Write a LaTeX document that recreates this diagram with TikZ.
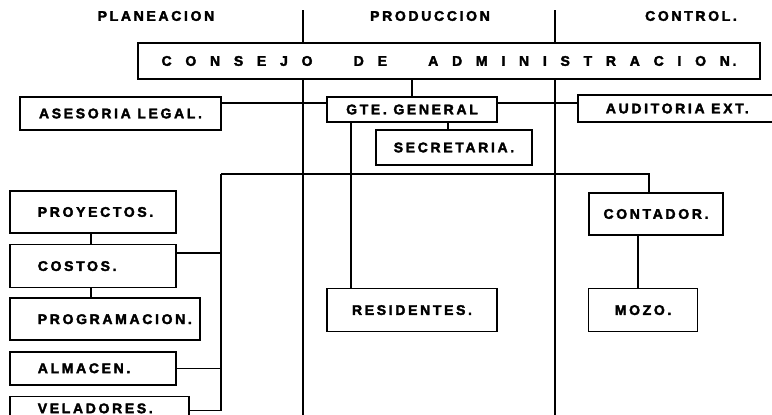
\documentclass[tikz,border=0pt]{standalone}
\usepackage{fontspec}
\setmainfont{Liberation Sans}[LetterSpace=19, BoldFeatures={FakeBold=2.5}]
\newfontfamily\spreadfont{Liberation Sans}[LetterSpace=19, WordSpace=2.1, BoldFeatures={FakeBold=2.5}]
\usepackage{tikz}
\usetikzlibrary{positioning}

\begin{document}
\begin{tikzpicture}[x=1pt, y=-1pt, line width=1.6pt,
    every node/.style={font=\bfseries\fontsize{14}{14}\selectfont},
    box/.style={draw, fill=white, inner sep=0pt},
    leftbox/.style={box, text width=#1, align=left, execute at begin node=\hspace*{28pt}}]
       \useasboundingbox (0,0) rectangle (772,415);
       % columns
       \node (plan) at (156,16) {PLANEACION};
       \node (prod) at (430,16) {PRODUCCION};
       \node (ctrl) at (691,16) {CONTROL.};
       \coordinate (div1) at (303,10);
       \coordinate (div2) at (555,10);
       \draw (div1) -- ++(0,405);
       \draw (div2) -- ++(0,405);

       % boxes
       \node[box, minimum width=622pt, minimum height=36pt] (consejo) at (449,61)
            {\spreadfont C O N S E J O\ \ \ D E\ \ \ A D M I N I S T R A C I O N.};
       \node[box, minimum width=201pt, minimum height=33pt] (asesoria) at (120.5,113.5) {ASESORIA LEGAL.};
       \node[box, minimum width=170pt, minimum height=25pt] (gte) at (412,109.5) {GTE. GENERAL};
       \node[box, minimum width=156pt, minimum height=35pt] (secretaria) at (454,147.5) {SECRETARIA.};
       \node[box, minimum width=199pt, minimum height=27pt, anchor=west] (auditoria) at (577,108.5) {AUDITORIA EXT.};
       \node[box, minimum width=170pt, minimum height=43pt] (residentes) [below=165pt of gte] {RESIDENTES.};
       \node[box, minimum width=109pt, minimum height=43pt] (mozo) [right=90pt of residentes] {MOZO.};
       \node[box, minimum width=134pt, minimum height=42pt] (contador) at (656,214) {CONTADOR.};

       \node[leftbox=166pt, minimum height=42pt, anchor=west] (proyectos) at (9,212) {PROYECTOS.};
       \node[leftbox=166pt, minimum height=43pt] (costos) [below=10pt of proyectos.south west, anchor=north west] {COSTOS.};
       \node[leftbox=190pt, minimum height=42pt] (programacion) [below=9pt of costos.south west, anchor=north west] {PROGRAMACION.};
       \node[leftbox=166pt, minimum height=33pt] (almacen) [below=10pt of programacion.south west, anchor=north west] {ALMACEN.};
       \node[leftbox=179pt, minimum height=24pt] (veladores) [below=10pt of almacen.south west, anchor=north west] {VELADORES.};

       % lines
       \coordinate (lvl) at (0,103);
       \coordinate (bus) at (221,174);
       \draw (consejo.south -| gte) -- (gte);
       \draw (asesoria.east |- lvl) -- (gte.west |- lvl);
       \draw (gte.east |- lvl) -- (auditoria.west |- lvl);
       \draw ([xshift=-6pt]secretaria.north) -- ([xshift=-6pt]secretaria.north |- gte.south);
       \draw ([xshift=25pt]gte.south west) -- ([xshift=25pt]gte.south west |- residentes.north);
       \draw (bus) -| ([xshift=61pt]contador.north west);
       \draw (bus) |- ([yshift=-15pt]veladores.north east);
       \draw ([yshift=-9pt]costos.north east) -| (bus);
       \draw (almacen) -- (bus |- almacen);
       \draw ([xshift=82pt]proyectos.south west) -- ([xshift=82pt]proyectos.south west |- costos.north);
       \draw ([xshift=82pt]costos.south west) -- ([xshift=82pt]costos.south west |- programacion.north);
       \draw ([xshift=50pt]contador.south west) -- ([xshift=50pt]contador.south west |- mozo.north);
\end{tikzpicture}
\end{document}
